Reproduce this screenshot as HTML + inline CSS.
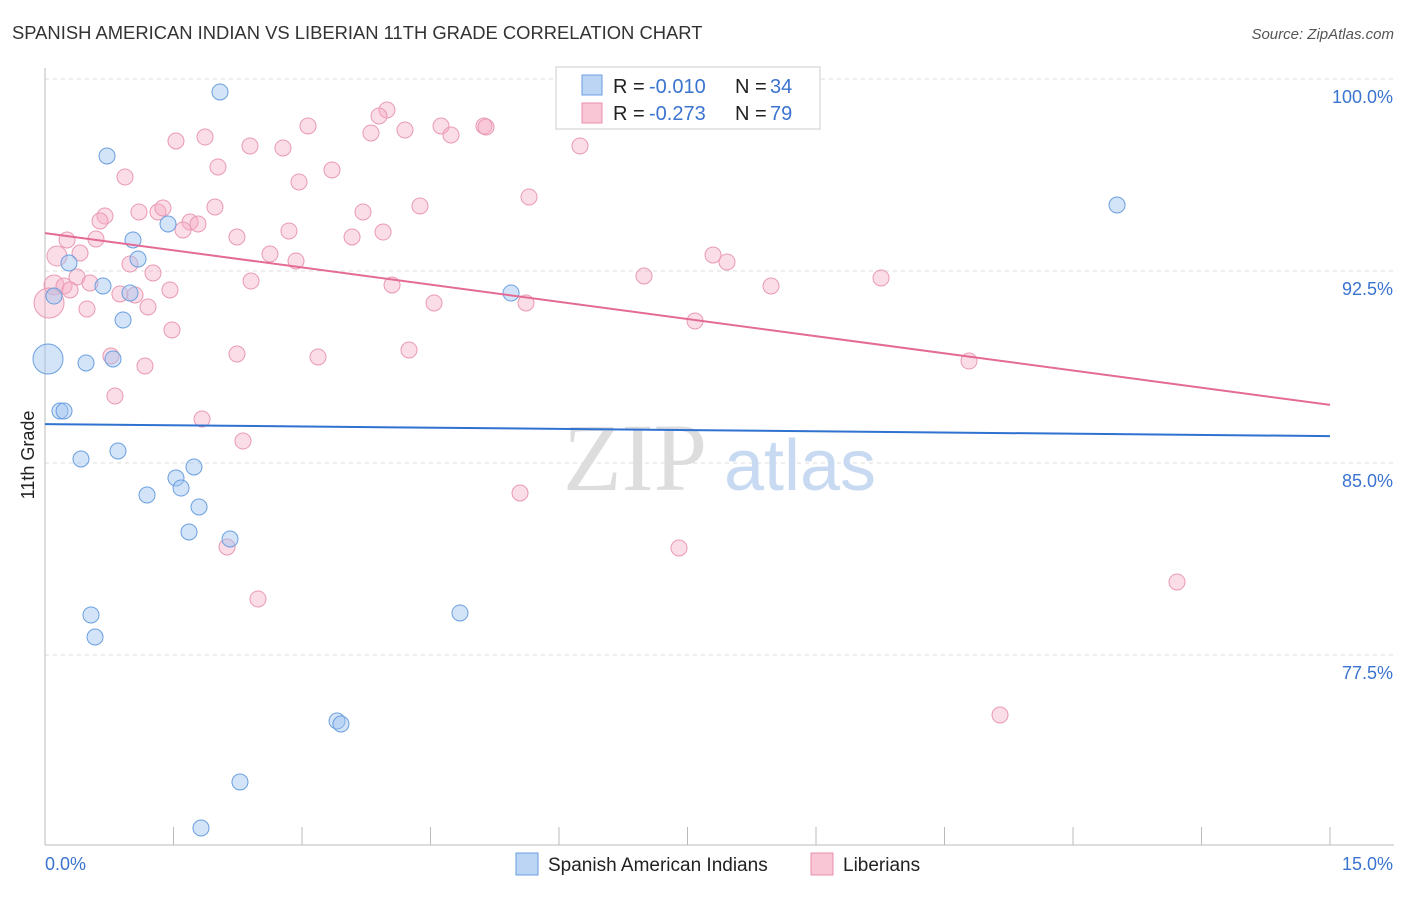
<!DOCTYPE html>
<html><head><meta charset="utf-8"><style>
body{margin:0;background:#fff;font-family:"Liberation Sans",sans-serif}
</style></head><body>
<svg width="1406" height="892" xmlns="http://www.w3.org/2000/svg">
<text x="12" y="39" font-size="18.4" fill="#333">SPANISH AMERICAN INDIAN VS LIBERIAN 11TH GRADE CORRELATION CHART</text>
<text x="1394" y="39" font-size="15" fill="#555" text-anchor="end" font-style="italic">Source: ZipAtlas.com</text>
<g id="grid"></g>
<text x="635" y="490" font-size="96" fill="#ddd" font-family="Liberation Serif" text-anchor="middle">ZIP</text>
<text x="800" y="490" font-size="72" fill="#c8daf2" text-anchor="middle">atlas</text>
<g id="pts"></g>
<g id="lines"></g>
<text x="34" y="455" font-size="18" fill="#222" text-anchor="middle" transform="rotate(-90 34 455)">11th Grade</text>
<text x="45" y="870" font-size="18" fill="#3b74d0">0.0%</text>
<text x="1393" y="870" font-size="18" fill="#3b74d0" text-anchor="end">15.0%</text>
<g>
<rect x="556" y="67" width="264" height="62" fill="#fff" stroke="#ccc"/>
<rect x="582" y="75" width="20" height="20" fill="#bcd5f5" stroke="#6a9fe0"/>
<rect x="582" y="103" width="20" height="20" fill="#f9c6d5" stroke="#e890ab"/>
<text x="613" y="93" font-size="20" fill="#222">R =</text>
<text x="649" y="93" font-size="20" fill="#3b74d0">-0.010</text>
<text x="735" y="93" font-size="20" fill="#222">N =</text>
<text x="770" y="93" font-size="20" fill="#3b74d0">34</text>
<text x="613" y="120" font-size="20" fill="#222">R =</text>
<text x="649" y="120" font-size="20" fill="#3b74d0">-0.273</text>
<text x="735" y="120" font-size="20" fill="#222">N =</text>
<text x="770" y="120" font-size="20" fill="#3b74d0">79</text>
</g>
<g>
<rect x="516" y="853" width="22" height="22" fill="#bcd5f5" stroke="#6a9fe0"/>
<text x="548" y="871" font-size="19" fill="#222">Spanish American Indians</text>
<rect x="811" y="853" width="22" height="22" fill="#f9c6d5" stroke="#e890ab"/>
<text x="843" y="871" font-size="19" fill="#222">Liberians</text>
</g>
</svg>
<script>
const yTicks=[100,92.5,85,77.5];
const xTicks=[0,1.5,3,4.5,6,7.5,9,10.5,12,13.5,15];
const bluePx=[[220,92],[107,156],[1117,205],[168,224],[133,240],[138,259],[69,263],[103,286],[130,293],[54,296],[511,293],[123,320],[48,359,15],[86,363],[113,359],[60,411],[64,411],[81,459],[118,451],[176,478],[194,467],[181,488],[147,495],[199,507],[189,532],[230,539],[91,615],[95,637],[460,613],[337,721],[341,724],[240,782],[201,828]];
const pinkPx=[[387,110],[379,116],[176,141],[205,137],[250,146],[283,148],[308,126],[371,133],[405,130],[441,126],[451,135],[484,126],[486,127],[580,146],[218,167],[125,177],[299,182],[332,170],[529,197],[139,212],[158,212],[163,208],[105,216],[100,221],[215,207],[190,222],[198,224],[183,230],[363,212],[420,206],[67,240],[96,239],[237,237],[289,231],[352,237],[383,232],[80,253],[57,256,10],[270,254],[296,261],[130,264],[713,255],[727,262],[153,273],[644,276],[77,277],[251,281],[392,285],[771,286],[881,278],[54,285,10],[64,286],[70,290],[90,283],[120,294],[135,295],[170,290],[49,303,15],[87,309],[148,307],[434,303],[526,303],[695,321],[172,330],[237,354],[318,357],[409,350],[111,356],[145,366],[969,361],[115,396],[202,419],[243,441],[520,493],[227,547],[679,548],[258,599],[1177,582],[1000,715]];
const blueX=bluePx.map(p=>+((p[0]-45)/85.667).toFixed(3)), blueY=bluePx.map(p=>+(100-(p[1]-79)/25.6).toFixed(3)), blueR=bluePx.map(p=>p[2]||8);
const pinkX=pinkPx.map(p=>+((p[0]-45)/85.667).toFixed(3)), pinkY=pinkPx.map(p=>+(100-(p[1]-79)/25.6).toFixed(3)), pinkR=pinkPx.map(p=>p[2]||8);
const blueTrend=[86.52,86.05], pinkTrend=[93.98,87.27];
const sx=v=>45+v*85.667, sy=v=>79+(100-v)*25.6;
const NS="http://www.w3.org/2000/svg";
function mk(t,a,parent){const e=document.createElementNS(NS,t);for(const k in a)e.setAttribute(k,a[k]);document.getElementById(parent).appendChild(e);return e;}
yTicks.forEach(v=>{
 const l=mk('line',{x1:45,x2:1394,y1:sy(v),y2:sy(v),stroke:'#ddd','stroke-dasharray':'4,4'},'grid');
 
 
 const t=mk('text',{x:1393,y:sy(v)+24,'font-size':18,fill:'#3b74d0','text-anchor':'end'},'grid');t.textContent=v.toFixed(1)+'%';
 
 
});
const ax=mk('line',{x1:45,x2:45,y1:68,y2:845,stroke:'#bbb'},'grid');


const bx=mk('line',{x1:45,x2:1394,y1:845,y2:845,stroke:'#bbb'},'grid');


xTicks.forEach(v=>{const l=mk('line',{x1:sx(v),x2:sx(v),y1:827,y2:845,stroke:'#bbb'},'grid');
 
 });
pinkX.forEach((x,i)=>{const c=mk('circle',{cx:sx(x),cy:sy(pinkY[i]),r:pinkR[i],fill:'rgba(245,170,195,0.4)',stroke:'#e99ab3','stroke-width':1},'pts');
 
 });
blueX.forEach((x,i)=>{const c=mk('circle',{cx:sx(x),cy:sy(blueY[i]),r:blueR[i],fill:'rgba(160,195,240,0.45)',stroke:'#6a9fe0','stroke-width':1},'pts');
 
 });
const bl=mk('line',{x1:sx(0),x2:sx(15),y1:sy(blueTrend[0]),y2:sy(blueTrend[1]),stroke:'#2f72d0','stroke-width':2},'lines');


const pl=mk('line',{x1:sx(0),x2:sx(15),y1:sy(pinkTrend[0]),y2:sy(pinkTrend[1]),stroke:'#e36b96','stroke-width':2},'lines');


</script>
</body></html>
